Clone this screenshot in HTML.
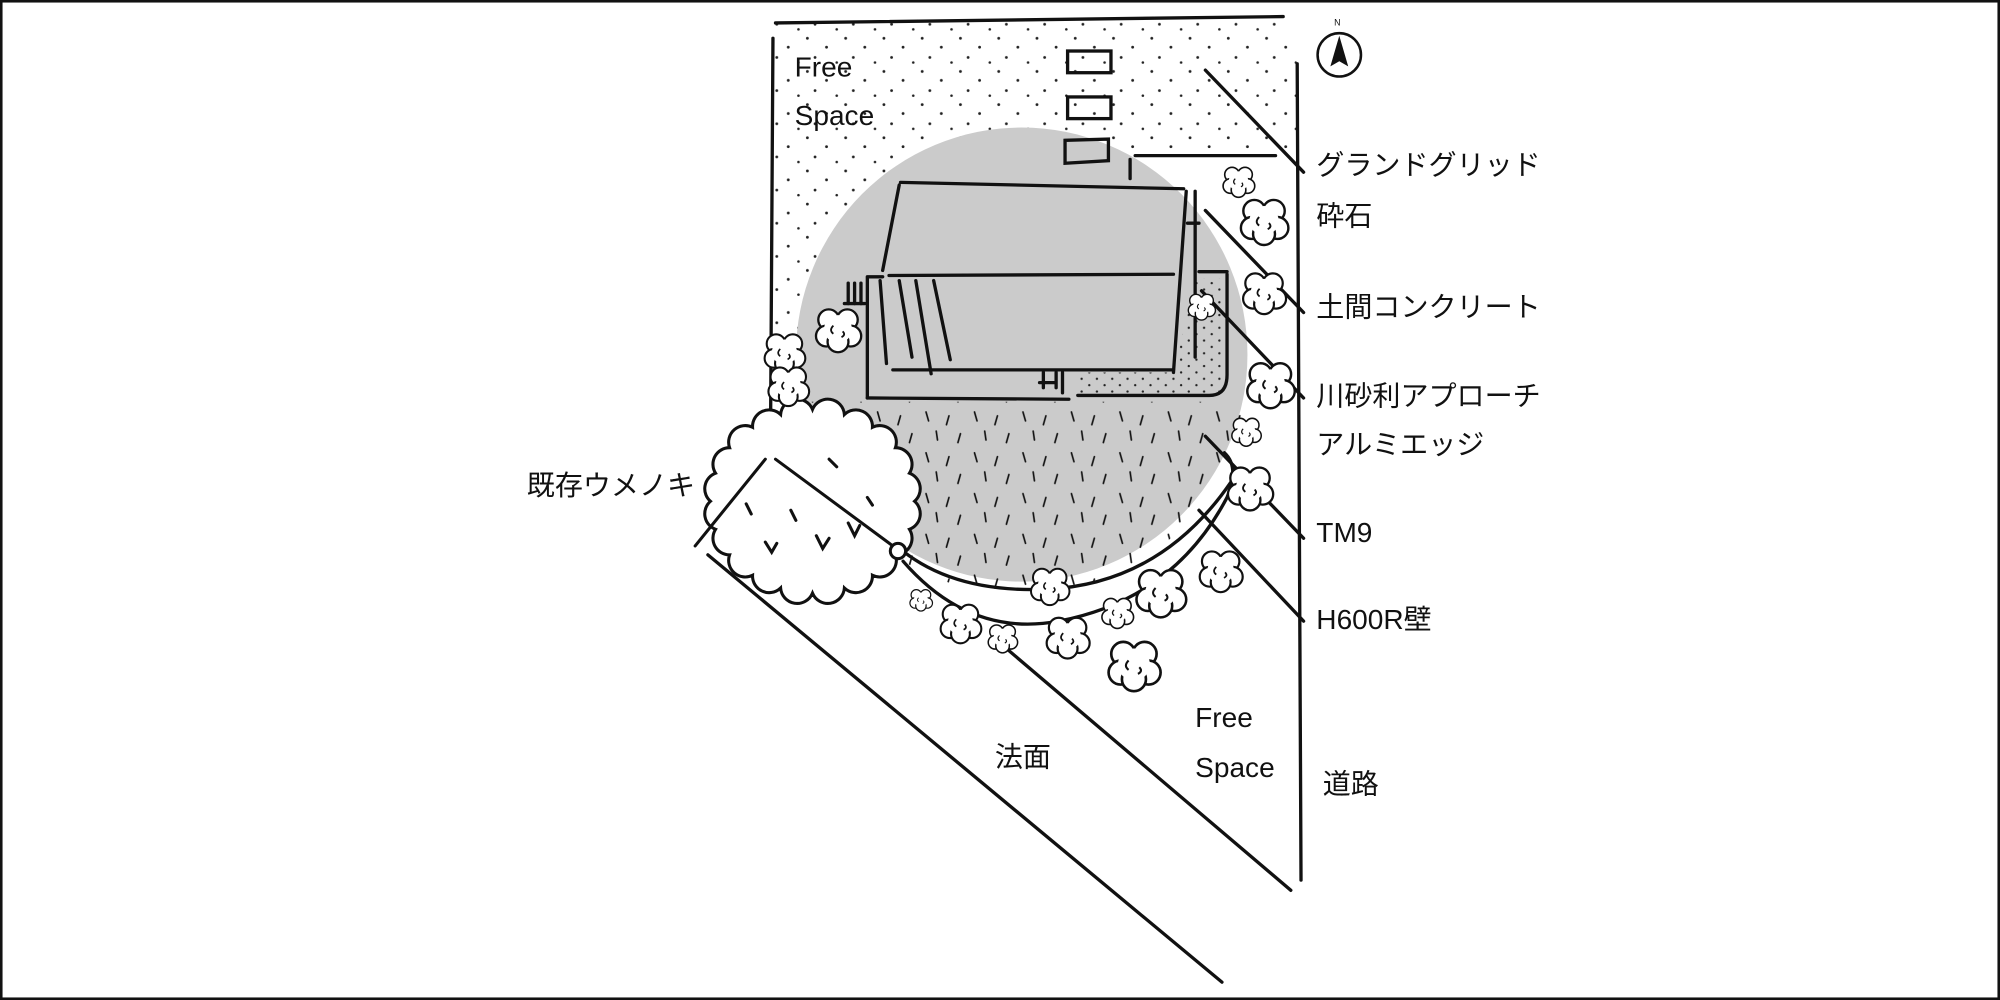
<!DOCTYPE html>
<html><head><meta charset="utf-8"><style>
html,body{margin:0;padding:0;background:#fff}
svg{display:block}
text{font-family:"Liberation Sans","Noto Sans CJK JP",sans-serif;font-size:22px;fill:#111}
</style></head><body>
<svg width="2000" height="1000" viewBox="0 0 1568 784" xmlns="http://www.w3.org/2000/svg">
<defs>
<pattern id="dots" width="30" height="26" patternUnits="userSpaceOnUse">
<circle cx="3" cy="4" r="1.1" fill="#222"/><circle cx="18" cy="11" r="1.1" fill="#222"/><circle cx="9" cy="19" r="1.1" fill="#222"/><circle cx="26" cy="23" r="1" fill="#222"/>
</pattern>
<pattern id="fdots" width="12" height="10" patternUnits="userSpaceOnUse">
<circle cx="2" cy="2" r="0.9" fill="#222"/><circle cx="8" cy="7" r="0.9" fill="#222"/>
</pattern>
<pattern id="dash" width="38" height="32" patternUnits="userSpaceOnUse">
<g stroke="#111" stroke-width="1.3" stroke-linecap="round">
<line x1="4" y1="3" x2="6" y2="10"/><line x1="22" y1="6" x2="20" y2="13"/><line x1="12" y1="18" x2="13" y2="25"/><line x1="31" y1="20" x2="29" y2="27"/>
</g></pattern>
<symbol id="cl" viewBox="-22 -22 44 44" overflow="visible">
<g fill="#fff" stroke="#111" stroke-width="2">
<circle cx="-8" cy="-8" r="9"/><circle cx="8" cy="-8" r="9"/><circle cx="11" cy="6" r="9"/><circle cx="-10" cy="6" r="9"/><circle cx="0" cy="11" r="9"/>
</g>
<circle cx="0" cy="0" r="12" fill="#fff"/>
<path d="M-4 -3 q-4 4 0 7 M4 2 q3 3 -1 5" fill="none" stroke="#111" stroke-width="1.6"/>
</symbol>
</defs>
<rect x="1" y="1" width="1566" height="782" fill="#fff" stroke="#111" stroke-width="2"/>
<polygon points="607,18 1006,14 1017,50 1017,122 890,122 970,320 606,320" fill="url(#dots)"/>
<ellipse cx="801" cy="278" rx="177" ry="178" fill="#cbcbcb"/>
<path d="M626 315 A177 178 0 0 0 976 315 Z" fill="url(#dash)"/>
<path d="M845 292 L920 292 L937 218 L960 218 L960 308 L845 308 Z" fill="url(#fdots)"/>
<g stroke="#111" stroke-width="2.6" fill="none" stroke-linecap="round">
<line x1="608" y1="18" x2="1006" y2="13"/>
<line x1="606" y1="30" x2="604" y2="355"/>
<line x1="1017" y1="50" x2="1020" y2="690"/>
<line x1="555" y1="435" x2="958" y2="770"/>
<line x1="785" y1="505" x2="1012" y2="698"/>
<rect x="837" y="40" width="34" height="17"/>
<rect x="837" y="76" width="34" height="17"/>
<path d="M835 110 L869 109 L869 126 L835 128 Z"/>
<line x1="890" y1="122" x2="1000" y2="122"/>
<line x1="886" y1="125" x2="886" y2="140"/>
<line x1="706" y1="143" x2="928" y2="148"/>
<line x1="705" y1="145" x2="692" y2="212"/>
<line x1="697" y1="216" x2="920" y2="215"/>
<line x1="680" y1="217" x2="692" y2="217"/>
<line x1="930" y1="150" x2="920" y2="292"/>
<line x1="937" y1="150" x2="937" y2="280"/>
<line x1="931" y1="175" x2="940" y2="175"/>
<line x1="680" y1="218" x2="680" y2="312"/>
<path d="M680 312 L838 313 M845 310 L948 310 Q962 310 962 294 L962 215"/>
<line x1="940" y1="213" x2="962" y2="213"/>
<line x1="700" y1="290" x2="920" y2="290"/>
<line x1="690" y1="220" x2="695" y2="285"/>
<line x1="705" y1="220" x2="715" y2="280"/>
<line x1="718" y1="220" x2="730" y2="293"/>
<line x1="732" y1="220" x2="745" y2="282"/>
<line x1="665" y1="222" x2="665" y2="238"/><line x1="670" y1="222" x2="670" y2="238"/><line x1="675" y1="222" x2="675" y2="238"/><line x1="662" y1="238" x2="678" y2="238"/>
<path d="M818 292 v12 M828 292 v12 M815 300 h12 M833 292 v16"/>
<path d="M703 428 Q745 465 820 462 Q910 458 965 378"/>
<path d="M708 440 Q760 500 830 487 Q920 470 962 390 Q972 366 960 355"/>
<line x1="945" y1="55" x2="1022" y2="135"/>
<line x1="945" y1="165" x2="1022" y2="245"/>
<line x1="942" y1="228" x2="1022" y2="312"/>
<line x1="945" y1="342" x2="1022" y2="422"/>
<line x1="940" y1="400" x2="1022" y2="487"/>
<circle cx="1050" cy="43" r="17" stroke-width="2"/>
</g>
<polygon points="1050,28 1043,52 1050,48 1057,52" fill="#111"/>
<text x="1046" y="20" style="font-size:7px">N</text>
<!-- ume tree -->
<path d="M717 393 A13 13 0 0 1 713 415 A13 13 0 0 1 702 435 A13 13 0 0 1 684 451 A13 13 0 0 1 662 461 A13 13 0 0 1 637 465 A13 13 0 0 1 612 461 A13 13 0 0 1 590 451 A13 13 0 0 1 572 435 A13 13 0 0 1 561 415 A13 13 0 0 1 557 393 A13 13 0 0 1 561 371 A13 13 0 0 1 572 351 A13 13 0 0 1 590 335 A13 13 0 0 1 612 325 A13 13 0 0 1 637 321 A13 13 0 0 1 662 325 A13 13 0 0 1 684 335 A13 13 0 0 1 702 351 A13 13 0 0 1 713 371 A13 13 0 0 1 717 393 Z" fill="#fff" stroke="#111" stroke-width="2.4"/>
<g stroke="#111" stroke-width="2.4" fill="none" stroke-linecap="round">
<line x1="600" y1="360" x2="545" y2="428"/>
<line x1="608" y1="360" x2="700" y2="428"/>
<circle cx="704" cy="432" r="6" fill="#fff"/>
<path d="M640 420 l5 10 l5 -8 M665 410 l5 10 l4 -8 M600 425 l5 8 l4 -7 M620 400 l4 8 M680 390 l4 6 M585 395 l4 8 M650 360 l6 6"/>
</g>
<g>
<use href="#cl" x="637" y="238" width="40" height="40"/>
<use href="#cl" x="597" y="258" width="36" height="36"/>
<use href="#cl" x="600" y="284" width="36" height="36"/>
<use href="#cl" x="970" y="152" width="42" height="42"/>
<use href="#cl" x="957" y="128" width="28" height="28"/>
<use href="#cl" x="972" y="210" width="38" height="38"/>
<use href="#cl" x="975" y="280" width="42" height="42"/>
<use href="#cl" x="964" y="325" width="26" height="26"/>
<use href="#cl" x="960" y="362" width="40" height="40"/>
<use href="#cl" x="938" y="428" width="38" height="38"/>
<use href="#cl" x="930" y="228" width="24" height="24"/>
<use href="#cl" x="806" y="442" width="34" height="34"/>
<use href="#cl" x="712" y="460" width="20" height="20"/>
<use href="#cl" x="735" y="470" width="36" height="36"/>
<use href="#cl" x="773" y="487" width="26" height="26"/>
<use href="#cl" x="818" y="480" width="38" height="38"/>
<use href="#cl" x="862" y="466" width="28" height="28"/>
<use href="#cl" x="888" y="442" width="44" height="44"/>
<use href="#cl" x="866" y="498" width="46" height="46"/>
</g>
<text x="623" y="60">Free</text>
<text x="623" y="98">Space</text>
<text x="1032" y="137">グランドグリッド</text>
<text x="1032" y="177">砕石</text>
<text x="1032" y="248">土間コンクリート</text>
<text x="1032" y="318">川砂利アプローチ</text>
<text x="1032" y="356">アルミエッジ</text>
<text x="1032" y="425">TM9</text>
<text x="1032" y="493">H600R壁</text>
<text x="413" y="388">既存ウメノキ</text>
<text x="937" y="570">Free</text>
<text x="937" y="609">Space</text>
<text x="780" y="601">法面</text>
<text x="1037" y="622">道路</text>
</svg>
</body></html>
